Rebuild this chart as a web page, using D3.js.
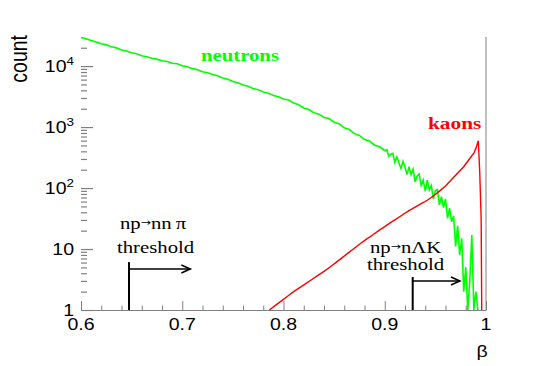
<!DOCTYPE html>
<html>
<head>
<meta charset="utf-8">
<script src="https://cdn.jsdelivr.net/npm/d3@7"></script>
<style>
  body { margin: 0; background: #fff; }
  svg { display: block; }
</style>
</head>
<body>
<script>
// neutron beta spectrum (counts)
const neutronBeta = [
  0.600, 0.605, 0.610, 0.615, 0.620, 0.625, 0.630, 0.635, 0.640, 0.645,
  0.650, 0.655, 0.660, 0.665, 0.670, 0.675, 0.680, 0.685, 0.690, 0.695,
  0.700, 0.705, 0.710, 0.715, 0.720, 0.725, 0.730, 0.735, 0.740, 0.745,
  0.750, 0.755, 0.760, 0.765, 0.770, 0.775, 0.780, 0.785, 0.790, 0.795,
  0.800, 0.805, 0.810, 0.815, 0.820, 0.825, 0.830, 0.835, 0.840, 0.845,
  0.850, 0.855, 0.860, 0.865, 0.870, 0.875, 0.880, 0.885, 0.890, 0.895,
  0.900, 0.902, 0.904, 0.906, 0.908, 0.910, 0.912, 0.914, 0.916, 0.918,
  0.920, 0.922, 0.924, 0.926, 0.928, 0.930, 0.932, 0.934, 0.936, 0.938,
  0.940, 0.942, 0.944, 0.946, 0.948, 0.950, 0.952, 0.954, 0.956, 0.958,
  0.960, 0.962, 0.964, 0.966, 0.968, 0.970, 0.972, 0.974, 0.976, 0.978,
  0.980, 0.982, 0.984, 0.986, 0.988, 0.990, 0.992
];
const neutronCount = [
  29500, 28100, 26200, 24900, 23200, 22300, 20700, 19900, 18400, 17700,
  16500, 15900, 14800, 14200, 13400, 13000, 12200, 11900, 11100, 10900,
  10100, 9750, 9080, 8700, 8100, 7800, 7250, 6920, 6380, 6090,
  5590, 5340, 4900, 4680, 4290, 4110, 3760, 3600, 3290, 3150,
  2880, 2770, 2480, 2320, 2060, 1940, 1720, 1630, 1440, 1380,
  1200, 1130, 970, 910, 780, 730, 625, 590, 505, 475,
  410, 427, 331, 363, 372, 263, 324, 257, 209, 275,
  224, 166, 224, 166, 204, 126, 158, 170, 110, 135,
  89, 135, 93, 110, 66, 91, 95, 53, 72, 48,
  66, 32, 47, 28, 35, 11, 24, 8, 15, 2,
  5, 1, 3, 17, 1, 2, 1
];

// kaon beta spectrum
const kaonBeta = [
  0.786, 0.792, 0.798, 0.804, 0.810, 0.816, 0.822, 0.828, 0.834, 0.840,
  0.846, 0.852, 0.858, 0.864, 0.870, 0.876, 0.882, 0.888, 0.894, 0.900,
  0.906, 0.912, 0.918, 0.924, 0.930, 0.936, 0.942, 0.948, 0.954, 0.960,
  0.966, 0.970, 0.974, 0.978, 0.982, 0.986, 0.988, 0.990, 0.9924, 0.9938,
  0.9952, 0.9958
];
const kaonCount = [
  1.0, 1.19, 1.41, 1.68, 2.0, 2.33, 2.71, 3.16, 3.69, 4.3,
  5.07, 6.05, 7.23, 8.63, 10.3, 12.3, 14.5, 17.0, 20.0, 23.3,
  27.4, 31.6, 36.8, 42.7, 48.8, 55.6, 63.1, 74.1, 89.1, 108,
  138, 162, 191, 224, 275, 339, 372, 447, 596, 185,
  32, 1
];

const xTickValues = [0.6, 0.7, 0.8, 0.9, 1.0];
const xTickLabels = ['0.6', '0.7', '0.8', '0.9', '1'];
const yTickValues = [1, 10, 100, 1000, 10000];
const yTickBase = ['1', '10', '10', '10', '10'];
const yTickExp = ['', '', '2', '3', '4'];

// reaction thresholds: vertical line at threshold beta, arrow pointing to higher beta
const thresholdReaction = ['np\u2192nn\u2009\u03c0', 'np\u2192n\u039bK'];
const thresholdBeta = [0.6474, 0.9276];
const thresholdArrowEnd = [0.708, 0.9743];
const thresholdArrowCount = [4.7, 2.99];
const thresholdTopCount = [6.1, 3.47];

const width = 540;
const height = 366;
const margin = {top: 37, right: 54, bottom: 56, left: 81};
const stretch = 1.22; // the original render is a bit wide, so text is stretched
const sans = '"Liberation Sans", Arial, Helvetica, sans-serif';
const serif = '"Liberation Serif", "Times New Roman", serif';

const svg = d3.create('svg')
    .attr('viewBox', [0, 0, width, height])
    .attr('width', width)
    .attr('height', height);

svg.append('rect').attr('width', width).attr('height', height).attr('fill', '#fff');

const x = d3.scaleLinear()
    .domain([0.6, 1.0])
    .range([margin.left, width - margin.right]);

const y = d3.scaleLog()
    .domain([1, 3e4])
    .range([height - margin.bottom, margin.top]);

function addText(px, py, str, size, opts = {}) {
    let t = svg.append('text')
        .attr('transform', `translate(${px},${py}) scale(${stretch},1)` + (opts.rotate ? ' rotate(-90)' : ''))
        .attr('font-family', opts.family || sans)
        .attr('font-size', size)
        .attr('font-weight', opts.bold ? 'bold' : 'normal')
        .attr('fill', opts.color || '#000')
        .attr('text-anchor', opts.anchor || 'start');
    t.text(str);
    return t;
}

_renderAxes();
_renderHists();
_renderThresholds();
_renderLabels();

function _renderAxes() {
    // x axis: minor every 0.02, major every 0.1, ticks pointing up
    const minorX = x.ticks(20).filter(v => !xTickValues.some(m => Math.abs(m - v) < 1e-6));
    const xg = svg.append('g')
        .attr('transform', `translate(0,${height - margin.bottom})`);
    xg.call(d3.axisBottom(x).tickValues(minorX).tickSize(-4.5).tickSizeOuter(0).tickFormat(''));
    xg.append('g').call(d3.axisBottom(x).tickValues(xTickValues).tickSize(-9).tickSizeOuter(0).tickFormat(''))
        .select('.domain').remove();
    xg.selectAll('path, line').attr('stroke', '#808080').attr('stroke-width', 1);

    // y axis: log ticks pointing right, no axis line
    const minorY = y.ticks().filter(v => v < y.domain()[1] && !yTickValues.includes(v));
    const yg = svg.append('g')
        .attr('transform', `translate(${margin.left},0)`);
    yg.call(d3.axisLeft(y).tickValues(minorY).tickSize(-6).tickFormat(''));
    yg.call(g => g.append('g').call(d3.axisLeft(y).tickValues(yTickValues).tickSize(-12).tickFormat('')));
    yg.selectAll('.domain').remove();
    yg.selectAll('line').attr('stroke', '#808080').attr('stroke-width', 1.2);

    // right frame edge
    svg.append('line')
        .attr('x1', x(1.0)).attr('x2', x(1.0))
        .attr('y1', y(y.domain()[1])).attr('y2', y(1))
        .attr('stroke', '#808080');

    xTickValues.forEach((v, i) => {
        addText(x(v), y(1) + 20, xTickLabels[i], 16, {anchor: 'middle'});
    });

    yTickValues.forEach((v, i) => {
        let t = addText(74, y(v) + 6, '', 16, {anchor: 'end'});
        t.text(null);
        t.append('tspan').text(yTickBase[i]);
        if (yTickExp[i]) {
            t.append('tspan').attr('dy', -7).attr('font-size', 11).text(yTickExp[i]);
        }
    });
}

function _renderHists() {
    const line = d3.line()
        .x(d => x(d[0]))
        .y(d => y(Math.max(d[1], 1)));

    svg.append('path')
        .datum(d3.zip(neutronBeta, neutronCount))
        .attr('d', line)
        .attr('fill', 'none')
        .attr('stroke', '#00ff00')
        .attr('stroke-width', 1.6);

    svg.append('path')
        .datum(d3.zip(kaonBeta, kaonCount))
        .attr('d', line)
        .attr('fill', 'none')
        .attr('stroke', '#ff0000')
        .attr('stroke-width', 1.4);
}

function _renderThresholds() {
    thresholdBeta.forEach((b, i) => {
        let g = svg.append('g').attr('stroke', '#000').attr('fill', 'none');
        g.append('line')
            .attr('x1', x(b)).attr('x2', x(b))
            .attr('y1', y(thresholdTopCount[i])).attr('y2', y(1))
            .attr('stroke-width', 2);
        let ay = y(thresholdArrowCount[i]);
        let tip = x(thresholdArrowEnd[i]);
        g.append('line')
            .attr('x1', x(b)).attr('x2', tip)
            .attr('y1', ay).attr('y2', ay)
            .attr('stroke-width', 1.5);
        g.append('path')
            .attr('d', `M${tip - 9},${ay - 4}L${tip},${ay}L${tip - 9},${ay + 4}`)
            .attr('stroke-width', 1.5);
    });

    const textPos = [
        {x1: 120, y1: 229, x2: 117, y2: 253},
        {x1: 370, y1: 253, x2: 367, y2: 270}
    ];
    thresholdReaction.forEach((r, i) => {
        let p = textPos[i];
        let parts = r.split('\u2192');
        let t = addText(p.x1, p.y1, '', 17, {family: serif});
        t.text(null);
        t.append('tspan').text(parts[0]);
        t.append('tspan').attr('font-size', 10).attr('dy', -3).attr('font-family', '"DejaVu Sans", sans-serif').text('\u2192');
        t.append('tspan').attr('dy', 3).text(parts[1]);
        addText(p.x2, p.y2, 'threshold', 17, {family: serif});
    });
}

function _renderLabels() {
    addText(201, 61, 'neutrons', 17, {family: serif, bold: true, color: '#00ff00'});
    addText(428, 129, 'kaons', 17.5, {family: serif, bold: true, color: '#ff0000'});
    addText(27, 35, 'count', 19.5, {rotate: true, anchor: 'end'});
    addText(482, 357, '\u03b2', 16, {anchor: 'middle'});
}

document.body.appendChild(svg.node());
</script>
</body>
</html>
